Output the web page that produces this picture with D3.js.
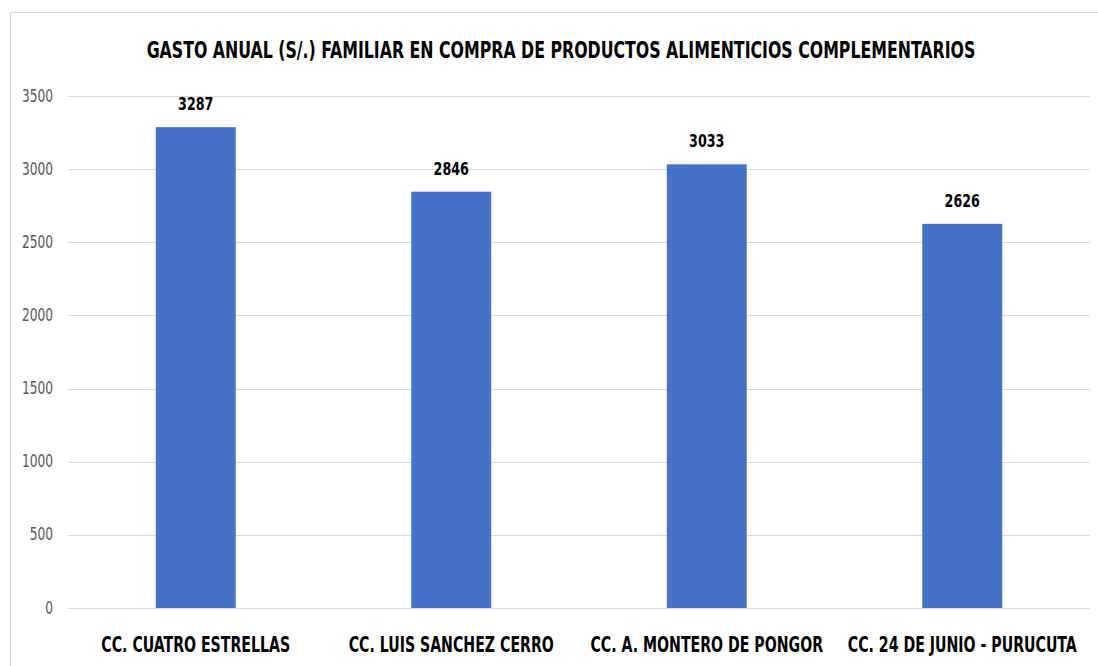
<!DOCTYPE html>
<meta charset="utf-8">
<style>
body { margin: 0; background: #fff; }
text { font-family: "DejaVu Sans Condensed", "Liberation Sans Narrow", sans-serif; }
.grid line { stroke: #d9d9d9; stroke-width: 1px; }
.y-axis text { fill: #595959; font-size: 17px; }
.x-axis text { fill: #000; font-size: 22px; font-weight: bold; }
.bar { fill: #4472c4; }
.label { font-size: 17px; font-weight: bold; fill: #000; }
.title { font-size: 22.5px; font-weight: bold; fill: #000; }
</style>
<body>
<script src="https://d3js.org/d3.v7.min.js"></script>
<script>
// data
var categories = ["CC. CUATRO ESTRELLAS", "CC. LUIS SANCHEZ CERRO", "CC. A. MONTERO DE PONGOR", "CC. 24 DE JUNIO - PURUCUTA"];
var values = [3287, 2846, 3033, 2626];
var yTicks = [0, 500, 1000, 1500, 2000, 2500, 3000, 3500];
var title = "GASTO ANUAL (S/.) FAMILIAR EN COMPRA DE PRODUCTOS ALIMENTICIOS COMPLEMENTARIOS";

var W = 1098, H = 666;
var margin = {top: 96, right: 8, bottom: 58, left: 68},
    width = W - margin.left - margin.right,
    height = H - margin.top - margin.bottom;

// no narrow font installed, so squeeze the text horizontally
function squeeze(sel, f) {
  sel.each(function() {
    var t = d3.select(this);
    var x0 = +(t.attr("x") || 0);
    t.attr("x", x0 / f).attr("transform", "scale(" + f + ",1)");
  });
}

var svg = d3.select("body").append("svg")
    .attr("width", W)
    .attr("height", H);

// chart frame
svg.append("rect")
    .attr("x", 10.5).attr("y", 12.5)
    .attr("width", W + 20).attr("height", H + 20)
    .attr("fill", "none")
    .attr("stroke", "#d9d9d9");

svg.append("text")
    .attr("class", "title")
    .attr("x", 561).attr("y", 58)
    .attr("text-anchor", "middle")
    .text(title)
    .call(squeeze, 0.78);

var g = svg.append("g")
    .attr("transform", "translate(" + margin.left + "," + margin.top + ")");

var x = d3.scaleBand()
    .domain(categories)
    .range([0, width])
    .paddingInner(0.687)
    .paddingOuter(0.3435);

var y = d3.scaleLinear()
    .domain([0, 3500])
    .range([height, 0]);

// gridlines
g.append("g")
    .attr("class", "grid")
    .selectAll("line")
    .data(yTicks).enter()
    .append("line")
    .attr("x1", 0).attr("x2", width)
    .attr("y1", function(d) { return Math.round(y(d)) + 0.5; })
    .attr("y2", function(d) { return Math.round(y(d)) + 0.5; });

// y axis labels
var yAxis = g.append("g")
    .attr("class", "y-axis")
    .call(d3.axisLeft(y).tickValues(yTicks).tickFormat(d3.format("d")).tickSize(0).tickPadding(15));
yAxis.select(".domain").remove();
yAxis.selectAll("text").attr("dy", "0.3em").call(squeeze, 0.8);

// x axis labels
var xAxis = g.append("g")
    .attr("class", "x-axis")
    .attr("transform", "translate(0," + height + ")")
    .call(d3.axisBottom(x).tickSize(0).tickPadding(28));
xAxis.select(".domain").remove();
xAxis.selectAll("text").call(squeeze, 0.715);

// bars
g.selectAll(".bar")
    .data(values).enter()
    .append("rect")
    .attr("class", "bar")
    .attr("x", function(d, i) { return x(categories[i]); })
    .attr("width", x.bandwidth())
    .attr("y", function(d) { return y(d); })
    .attr("height", function(d) { return height - y(d); });

// value labels
g.selectAll(".label")
    .data(values).enter()
    .append("text")
    .attr("class", "label")
    .attr("text-anchor", "middle")
    .attr("x", function(d, i) { return x(categories[i]) + x.bandwidth() / 2; })
    .attr("y", function(d) { return y(d) - 17; })
    .text(function(d) { return d; })
    .call(squeeze, 0.83);
</script>
</body>
